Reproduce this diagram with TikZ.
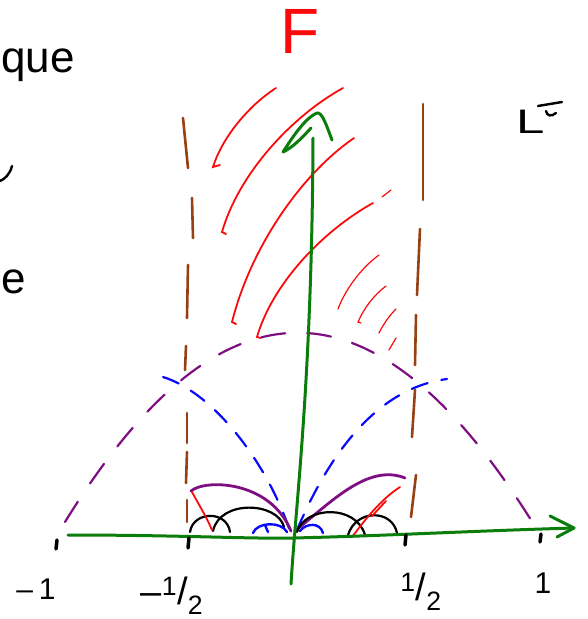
\documentclass[tikz,border=0pt]{standalone}
\usepackage{fontspec}
\setmainfont{Liberation Sans}
\definecolor{gr}{RGB}{10,125,10}
\definecolor{br}{RGB}{150,65,20}
\definecolor{pu}{RGB}{125,15,130}
\definecolor{bl}{RGB}{10,10,250}
\definecolor{rd}{RGB}{250,10,10}
\begin{document}
\begin{tikzpicture}[x=1pt,y=-1pt,
  axisline/.style={gr,line width=3pt,line cap=round,line join=round},
  hatch/.style={rd,line width=1.8pt,line cap=round},
  thinhatch/.style={rd,line width=1.2pt,line cap=round},
  wall/.style={br,line width=2.6pt,line cap=round},
  bigarc/.style={pu,line width=2.2pt,line cap=round,dash pattern=on 24pt off 22pt},
  bluearc/.style={bl,line width=2.2pt,line cap=round,dash pattern=on 17pt off 14pt},
  solidarc/.style={pu,line width=2.8pt,line cap=round},
  smallarc/.style={black,line width=2.2pt,line cap=round},
  smallblue/.style={bl,line width=2.4pt,line cap=round},
  tick/.style={black,line width=3.5pt,line cap=round},
  ink/.style={black,line width=2.4pt,line cap=round},
  lbl/.style={inner sep=0pt,font=\fontsize{30}{30}\selectfont},
  fraclbl/.style={inner sep=0pt,font=\fontsize{38}{38}\selectfont},
  word/.style={inner sep=0pt,font=\fontsize{44}{44}\selectfont}
]
\useasboundingbox (0,0) rectangle (587,619);

% ---- text fragments ----
\node[word,anchor=base west] (que) at (1,72) {que};
\node[word,anchor=base west] (ee) at (1,293) {e};
\draw[ink] (12,166) .. controls (10,174) and (5,179) .. (0,181);
\node[inner sep=0pt,anchor=base west,font=\fontsize{34}{34}\selectfont] (L) at (516,133) {\scalebox{1.5}[1]{L}};
\draw[ink] (538,106) -- (562,102);
\draw[ink] (546,111) .. controls (547,116) and (551,117) .. (556,113);
\node[inner sep=0pt,rd,font=\fontsize{64}{64}\selectfont] (F) at (300,31) {F};

% ---- brown walls ----
\foreach \a/\b/\c/\d in {183/118/188/168, 192/198/193/238, 188/265/187/318, 186/346/185/370,
                         187/413/187/443, 187/452/186/483, 187/500/187/522}
  \draw[wall] (\a,\b) -- (\c,\d);
\foreach \a/\b/\c/\d in {423/104/423/200, 420/229/417/295, 416/315/415/365,
                         415/390/412/437, 416/475/411/517}
  \draw[wall] (\a,\b) -- (\c,\d);

% ---- red hatching ----
\draw[hatch] (220,165) -- (213,167) .. controls (222,138) and (248,106) .. (276,88);
\draw[hatch] (226,234) -- (222,232) .. controls (238,176) and (289,118) .. (343,88);
\draw[hatch] (236,324) -- (232,322) .. controls (250,250) and (299,176) .. (354,138);
\draw[hatch] (261,338) -- (257,337) .. controls (272,285) and (321,232) .. (373,203);
\draw[thinhatch] (382,197) -- (391,190);
\draw[thinhatch] (338,309) .. controls (345,290) and (361,268) .. (379,255);
\draw[thinhatch] (361,323) -- (358,322) .. controls (364,308) and (374,295) .. (386,286);
\draw[thinhatch] (379,333) .. controls (384,323) and (390,315) .. (396,309);
\draw[thinhatch] (389,350) -- (396,338);

% ---- purple big dashed arc ----
\draw[bigarc] (65,522) .. controls (220,270) and (374,270) .. (531,520);

% ---- blue dashed arcs ----
\draw[bluearc] (163,377) .. controls (212,392) and (266,460) .. (290,531);
\draw[bluearc] (297,530) .. controls (330,452) and (378,388) .. (447,379);

% ---- purple solid arcs ----
\draw[solidarc] (191,491) .. controls (205,479) and (270,480) .. (291,531);
\draw[solidarc] (295,531) .. controls (330,503) and (368,463) .. (405,478);

% ---- black small arcs ----
\draw[smallarc] (190,532) .. controls (193,511) and (227,510) .. (230,532);
\draw[smallarc] (213,531) .. controls (220,499) and (278,502) .. (284,527);
\draw[smallarc] (297,532) .. controls (305,506) and (356,504) .. (365,535);
\draw[smallarc] (348,535) .. controls (356,509) and (392,509) .. (397,533);

% ---- blue small arcs ----
\draw[smallblue] (253,533) .. controls (257,522) and (281,521) .. (287,532);
\draw[smallblue] (265,525) -- (268,532);
\draw[smallblue] (300,531) .. controls (306,523) and (320,522) .. (323,533);

% ---- red small strokes ----
\draw[hatch] (192,492) .. controls (199,505) and (206,516) .. (212,530);
\draw[hatch] (352,537) .. controls (365,520) and (380,500) .. (400,487);
\draw[hatch] (372,516) -- (386,501);

% ---- axes ----
\coordinate (xs) at (68,535);
\coordinate (xe) at (574,528);
\coordinate (ys) at (291,584);
\coordinate (ye) at (313,138);
\coordinate (ytip) at (317,113);
\draw[axisline] (xs) .. controls (180,535) and (250,539) .. (293,538)
                     .. controls (380,536) and (470,531) .. (xe);
\draw[axisline] (550,516) -- (xe) -- (557,537);
\draw[axisline] (ys) .. controls (296,500) and (312,380) .. (ye);
\draw[axisline] (332,140) .. controls (326,124) and (322,112) .. (ytip)
                .. controls (305,118) and (292,138) .. (283,152)
                .. controls (292,148) and (302,138) .. (311,128);

% ---- ticks ----
\draw[tick] (57,540) -- (56,549);
\draw[tick] (189,538) -- (188,548);
\draw[tick] (406,535) -- (405,545);
\draw[tick] (541,534) -- (540,542);

% ---- labels ----
\node[lbl] (m1) at (36,589) {--\hspace{6pt}1};
\node[fraclbl] (mh) at (172,596) {--\textsuperscript{1}/\textsubscript{2}};
\node[fraclbl] (ph) at (421,592) {\textsuperscript{1}/\textsubscript{2}};
\node[lbl] (p1) at (543,583) {1};
\end{tikzpicture}
\end{document}
